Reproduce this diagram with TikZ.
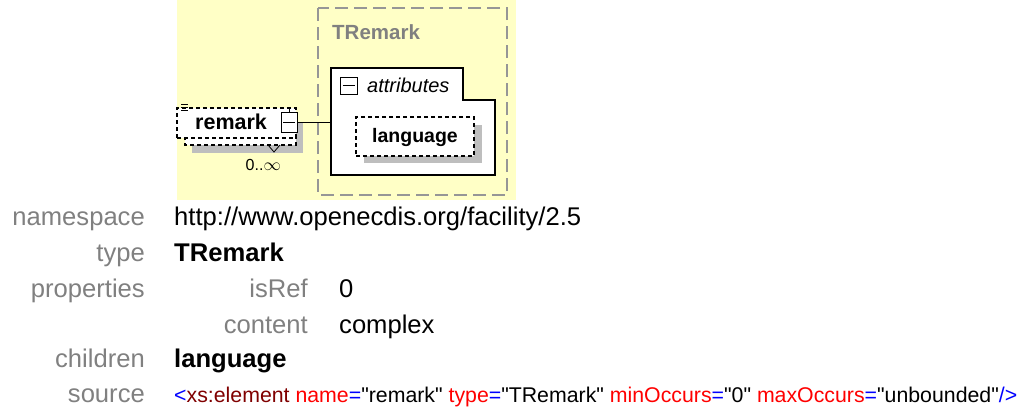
\documentclass[tikz,border=0pt]{standalone}
\usepackage{fontspec}
\setmainfont{Liberation Sans}
\newfontfamily\srcfont{Liberation Sans}
\usetikzlibrary{calc}
\definecolor{bgyellow}{RGB}{255,255,198}
\definecolor{lblgray}{RGB}{128,128,128}
\definecolor{dashgray}{RGB}{150,150,150}
\definecolor{shadowgray}{RGB}{190,190,190}
\definecolor{xsred}{RGB}{128,0,0}
\definecolor{attred}{RGB}{255,0,0}
\definecolor{xsblue}{RGB}{0,0,255}
\tikzset{
  lbl/.style={anchor=base east, inner sep=0pt, text=lblgray, font=\fontsize{25.6}{30}\selectfont},
  val/.style={anchor=base west, inner sep=0pt, text=black, font=\fontsize{25.6}{30}\selectfont},
  dtext/.style={inner sep=0pt, font=\fontsize{19.5}{22}\selectfont\bfseries},
  elbox/.style={draw=black, line width=1.2pt, dash pattern=on 4pt off 3pt, fill=white},
  minusbox/.style={draw=black, line width=1pt, fill=white},
}
\begin{document}
\begin{tikzpicture}[x=1pt,y=-1pt]
\useasboundingbox (0,0) rectangle (1027,407);
% background of diagram
\fill[bgyellow] (177,0) rectangle (516,200);
% TRemark complex type box
\draw[dashgray, line width=1.5pt, dash pattern=on 13pt off 6pt] (318,8) rectangle (507,195);
\node[dtext, anchor=base west, text=lblgray, font=\fontsize{20.5}{22}\selectfont\bfseries] (tname) at (332,39) {TRemark};
% attributes box
\draw[black, line width=1.6pt, fill=white] (331,68) -- (463,68) -- (463,100) -- (495,100) -- (495,175) -- (331,175) -- cycle;
\node[minusbox, minimum width=17pt, minimum height=17pt, inner sep=0pt] (amin) at (348.5,85.5) {};
\draw[line width=1pt] ($(amin.west)+(3,0)$) -- ($(amin.east)+(-3,0)$);
\node[inner sep=0pt, anchor=base west, font=\fontsize{20}{22}\selectfont\itshape] (attr) at (367,92) {attributes};
% language attribute
\fill[shadowgray] (364,125) rectangle (482,163);
\node[elbox, minimum width=118pt, minimum height=39pt, inner sep=0pt] (lang) at (415,136.5) {};
\node[dtext, anchor=base] (langt) at (415,142) {language};
% remark element
\fill[shadowgray] (192,122) rectangle (303,153);
\draw[black, line width=1.2pt, dash pattern=on 4pt off 3pt, fill=white] (185,115) rectangle (296,145);
\node[elbox, minimum width=119pt, minimum height=30pt, inner sep=0pt] (remark) at (236.5,123) {};
\node[dtext, anchor=base west, font=\fontsize{21.5}{24}\selectfont\bfseries] (remt) at (195,129) {remark};
\foreach \yy in {104,107,110} \draw[black, line width=0.8pt] (181,\yy) -- (188,\yy);
\draw[black, line width=0.8pt] (268,145) -- (274,152) -- (280,145);
\node[minusbox, minimum width=16pt, minimum height=20pt, inner sep=0pt] (rmin) at (289,122.5) {};
\draw[line width=1pt] (283,122.5) -- (295,122.5);
\draw[line width=1pt] (rmin.north) -- ++(0,-5);
\node[inner sep=0pt, anchor=base east, font=\fontsize{16}{18}\selectfont] (occ) at (281,170) {0..$\infty$};
% connector
\draw[black, line width=1.3pt] (rmin.east) -- (331,122.5);
% property table
\node[lbl] (l1) at (145,225) {namespace};
\node[val] (v1) at (174,225) {http://www.openecdis.org/facility/2.5};
\node[lbl] (l2) at (145,261) {type};
\node[val, font=\fontsize{25.6}{30}\selectfont\bfseries] (v2) at (174,261) {TRemark};
\node[lbl] (l3) at (145,297) {properties};
\node[lbl] (l3a) at (308,297) {isRef};
\node[val] (v3a) at (339,297) {0};
\node[lbl] (l3b) at (308,333) {content};
\node[val] (v3b) at (339,333) {complex};
\node[lbl] (l4) at (145,367) {children};
\node[val, font=\fontsize{25.6}{30}\selectfont\bfseries] (v4) at (174,367) {language};
\node[lbl] (l5) at (145,402) {source};
\node[val, font=\srcfont\fontsize{21.3}{25}\selectfont] (v5) at (174,402) {\textcolor{xsblue}{<}\textcolor{xsred}{xs:element} \textcolor{attred}{name}\textcolor{xsblue}{=}"remark" \textcolor{attred}{type}\textcolor{xsblue}{=}"TRemark" \textcolor{attred}{minOccurs}\textcolor{xsblue}{=}"0" \textcolor{attred}{maxOccurs}\textcolor{xsblue}{=}"unbounded"\textcolor{xsblue}{/>}};
\end{tikzpicture}
\end{document}
